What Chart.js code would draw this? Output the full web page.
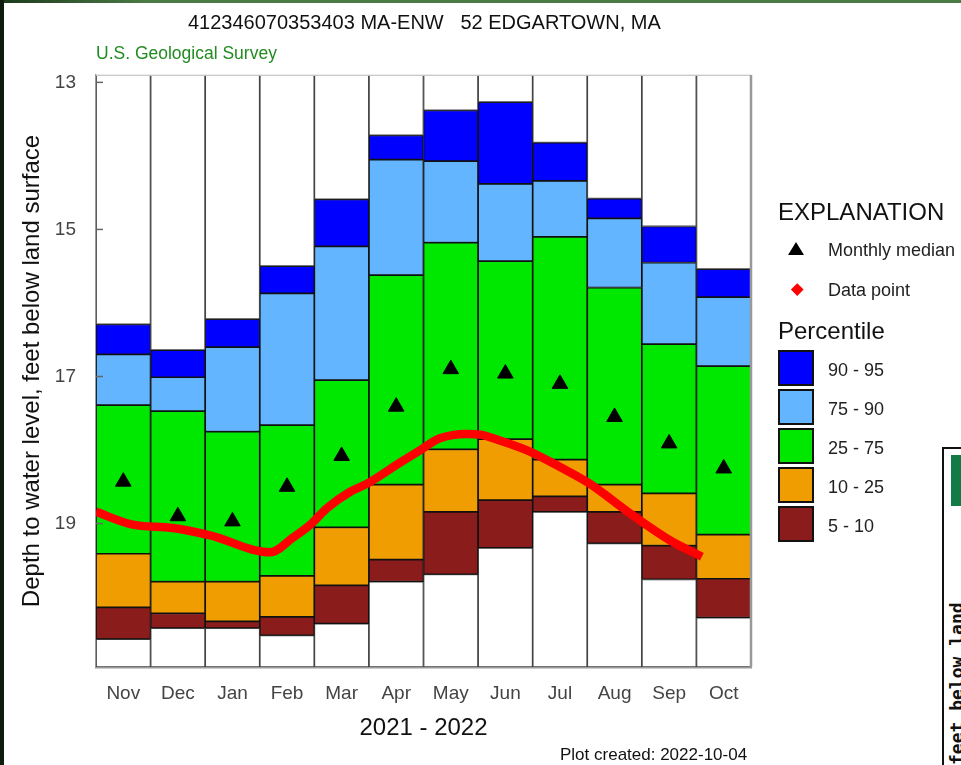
<!DOCTYPE html>
<html>
<head>
<meta charset="utf-8">
<script src="https://cdn.jsdelivr.net/npm/chart.js@4/dist/chart.umd.min.js"></script>
<style>
  html, body { margin:0; padding:0; background:#fff; width:961px; height:765px; overflow:hidden; position:relative; font-family:"Liberation Sans", Arial, sans-serif; }
  #c { position:absolute; left:0; top:0; }
  .txt { position:absolute; white-space:nowrap; line-height:1; }
  .frameTop { position:absolute; left:0; top:0; width:961px; height:3px; background:linear-gradient(to right,#1d3a1d,#4a7a45 15%,#4a7a45); }
  .frameLeft { position:absolute; left:0; top:0; width:4px; height:765px; background:#0e1c0e; }
  .box { position:absolute; left:778px; width:32px; height:32px; border:2px solid #111; }
  .lab { position:absolute; left:828px; font-size:18px; color:#222; line-height:1; }
  .tri { position:absolute; width:0; height:0; border-left:8.5px solid transparent; border-right:8.5px solid transparent; border-bottom:13px solid #000; }
  .dia { position:absolute; width:8.5px; height:8.5px; background:#ff0000; transform:rotate(45deg); }
</style>
</head>
<body>
<canvas id="c" width="961" height="765"></canvas>
<div class="frameTop"></div>
<div class="frameLeft"></div>

<div class="txt" style="left:188px; top:12px; font-size:20px; color:#111;">412346070353403 MA-ENW&nbsp;&nbsp;&nbsp;52 EDGARTOWN, MA</div>
<div class="txt" style="left:96px; top:45px; font-size:17.5px; color:#228b22;">U.S. Geological Survey</div>
<div class="txt" style="left:560px; top:746px; font-size:17px; color:#111;">Plot created: 2022-10-04</div>

<div class="txt" style="left:778px; top:200px; font-size:24px; color:#111;">EXPLANATION</div>
<div class="tri" style="left:788px; top:242px;"></div>
<div class="lab" style="top:241px;">Monthly median</div>
<div class="dia" style="left:793px; top:285px;"></div>
<div class="lab" style="top:281px;">Data point</div>
<div class="txt" style="left:778px; top:319px; font-size:24px; color:#111;">Percentile</div>
<div class="box" style="top:350px; background:#0000ff;"></div>
<div class="lab" style="top:361px;">90 - 95</div>
<div class="box" style="top:389px; background:#63b5ff;"></div>
<div class="lab" style="top:400px;">75 - 90</div>
<div class="box" style="top:428px; background:#00e800;"></div>
<div class="lab" style="top:439px;">25 - 75</div>
<div class="box" style="top:467px; background:#ef9d00;"></div>
<div class="lab" style="top:478px;">10 - 25</div>
<div class="box" style="top:506px; background:#8b1c1c;"></div>
<div class="lab" style="top:517px;">5 - 10</div>

<div style="position:absolute; left:942px; top:447px; width:40px; height:340px; border:2px solid #111; background:#fff;"></div>
<div style="position:absolute; left:951px; top:455px; width:20px; height:51px; background:#127a45;"></div>
<div class="txt" style="left:948px; top:765px; font-family:'DejaVu Sans Mono',monospace; font-weight:bold; font-size:18px; color:#111; transform-origin:0 0; transform:rotate(-90deg);">feet below land</div>

<script>
// ---------------- DATA ----------------
const months = ["Nov","Dec","Jan","Feb","Mar","Apr","May","Jun","Jul","Aug","Sep","Oct"];
// percentile depths (feet below land surface)
const p95 = [16.29,16.64,16.22,15.50,14.59,13.72,13.38,13.27,13.82,14.58,14.96,15.54];
const p90 = [16.70,17.01,16.60,15.87,15.23,14.05,14.07,14.38,14.34,14.85,15.45,15.92];
const p75 = [17.39,17.47,17.75,17.66,17.05,15.62,15.18,15.43,15.10,15.79,16.56,16.86];
const p25 = [19.41,19.79,19.79,19.71,19.05,18.47,17.99,17.85,18.13,18.47,18.59,19.15];
const p10 = [20.14,20.22,20.33,20.27,19.84,19.49,18.84,18.68,18.63,18.84,19.30,19.75];
const p5  = [20.57,20.42,20.42,20.52,20.36,19.79,19.69,19.33,18.84,19.27,19.76,20.28];
const medians = [18.43,18.90,18.97,18.50,18.08,17.41,16.90,16.96,17.10,17.55,17.91,18.25];
// daily data points: months elapsed since Nov 1, 2021, and depth
const dataMonth = [0.00,0.65,1.41,2.09,3.19,3.61,3.92,4.23,4.65,4.96,5.57,5.94,6.30,6.79,7.04,7.40,7.95,8.50,9.05,9.78,10.52,11.10];
const dataDepth = [18.84,19.01,19.06,19.16,19.39,19.19,19.02,18.79,18.57,18.46,18.17,18.00,17.84,17.78,17.79,17.87,18.02,18.23,18.46,18.86,19.23,19.45];
const yTicks = [13,15,17,19];
const yMin = 12.9, yMax = 20.95;

// ---------------- BUILD ----------------
const band = (a, b) => a.map((v, i) => [v, b[i]]);
const topWhite = p95.map(v => [yMin, v]);
const botWhite = p5.map(v => [v, yMax]);

function barDs(label, data, color, border, order) {
  return { type:'bar', label, data, backgroundColor:color, borderColor:border, borderWidth:1.2,
           borderSkipped:false, grouped:false, barPercentage:1, categoryPercentage:1, order, xAxisID:'x', yAxisID:'y' };
}

const inwardTicks = {
  id:'inwardTicks',
  afterDraw(chart) {
    const {ctx, chartArea, scales} = chart;
    ctx.save();
    ctx.strokeStyle = '#666'; ctx.lineWidth = 1.5;
    yTicks.forEach(t => {
      const y = scales.y.getPixelForValue(t);
      ctx.beginPath(); ctx.moveTo(chartArea.left, y); ctx.lineTo(chartArea.left + 7, y); ctx.stroke();
    });
    ctx.strokeStyle = '#e6e6e6'; ctx.lineWidth = 1.5;
    ctx.beginPath(); ctx.moveTo(chartArea.left, chartArea.top); ctx.lineTo(chartArea.right, chartArea.top); ctx.stroke();
    ctx.strokeStyle = '#999'; ctx.lineWidth = 2.5;
    ctx.beginPath(); ctx.moveTo(chartArea.right, chartArea.top); ctx.lineTo(chartArea.right, chartArea.bottom); ctx.stroke();
    ctx.restore();
  }
};

new Chart(document.getElementById('c'), {
  data: {
    labels: months,
    datasets: [
      { type:'line', label:'Data point', data: dataMonth.map((m,i)=>({x:m, y:dataDepth[i]})), xAxisID:'x2', yAxisID:'y',
        borderColor:'#ff0000', borderWidth:8.5, pointRadius:0, cubicInterpolationMode:'monotone', fill:false, order:0 },
      { type:'line', label:'Monthly median', data: medians, xAxisID:'x', yAxisID:'y', showLine:false,
        pointStyle:'triangle', pointRadius:9, backgroundColor:'#000', borderColor:'#000', borderWidth:1, order:1 },
      barDs('top', topWhite, '#ffffff', '#444', 2),
      barDs('90 - 95', band(p95, p90), '#0000ff', '#111', 3),
      barDs('75 - 90', band(p90, p75), '#63b5ff', '#111', 4),
      barDs('25 - 75', band(p75, p25), '#00e800', '#111', 5),
      barDs('10 - 25', band(p25, p10), '#ef9d00', '#111', 6),
      barDs('5 - 10', band(p10, p5), '#8b1c1c', '#111', 7),
      barDs('bottom', botWhite, '#ffffff', '#444', 8)
    ]
  },
  options: {
    responsive:false, animation:false, devicePixelRatio:1,
    layout: { padding: { left:5, top:75, right:210, bottom:10 } },
    plugins: { legend:{display:false}, tooltip:{enabled:false}, title:{display:false} },
    scales: {
      x: { type:'category', offset:true, position:'bottom',
           grid:{ display:false, drawTicks:false },
           border:{ display:true, color:'#999', width:2.5 },
           ticks:{ padding:15, color:'#444', font:{ family:'"Liberation Sans", Arial', size:19 } },
           title:{ display:true, text:'2021 - 2022', color:'#111', padding:{top:4, bottom:12}, font:{ family:'"Liberation Sans", Arial', size:24 } },
           afterFit(s){ s.height = 88; } },
      x2: { type:'linear', display:false, min:0, max:12 },
      y: { type:'linear', reverse:true, min:yMin, max:yMax,
           grid:{ display:false, drawTicks:false },
           border:{ display:true, color:'#999', width:2 },
           afterBuildTicks(s){ s.ticks = yTicks.map(v => ({value:v})); },
           ticks:{ padding:20, color:'#444', font:{ family:'"Liberation Sans", Arial', size:19 } },
           title:{ display:true, text:'Depth to water level, feet below land surface', color:'#111', padding:{top:13, bottom:0}, font:{ family:'"Liberation Sans", Arial', size:24 } },
           afterFit(s){ s.width = 91; } }
    }
  },
  plugins:[inwardTicks]
});
</script>
</body>
</html>
